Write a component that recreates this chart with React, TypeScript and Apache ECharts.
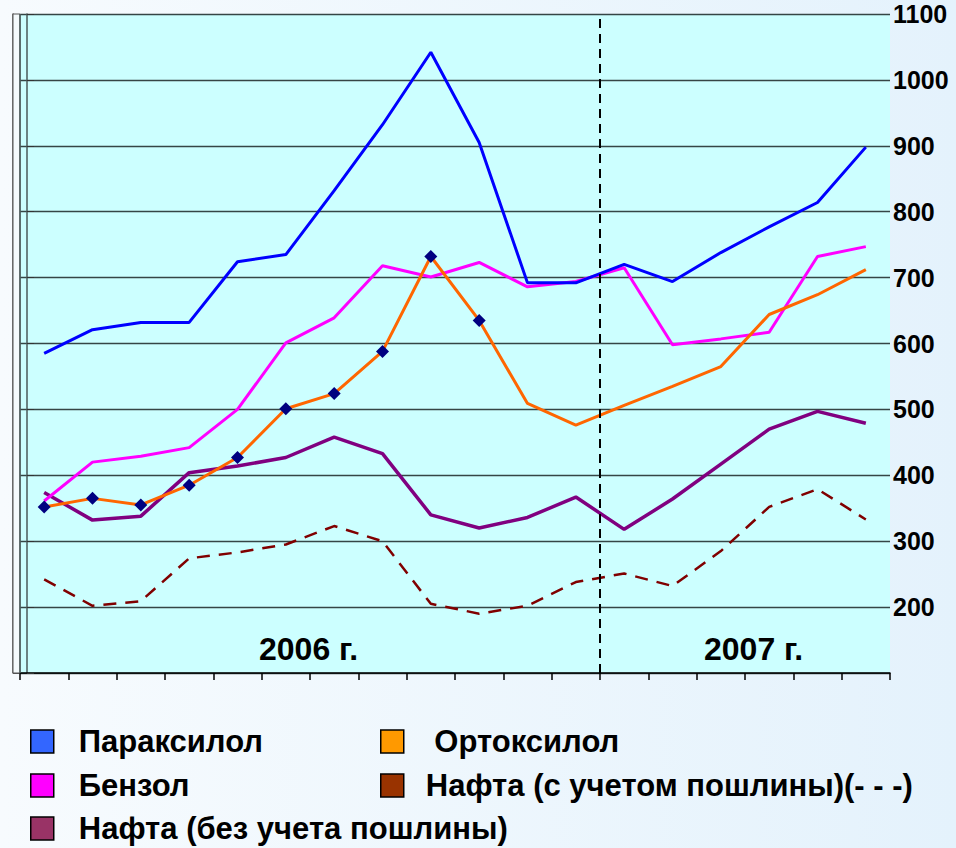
import React, { useEffect, useRef } from 'react';
import * as echarts from 'echarts';

// Months: January 2006 – June 2007
const categories = [
  'янв.06', 'фев.06', 'мар.06', 'апр.06', 'май.06', 'июн.06',
  'июл.06', 'авг.06', 'сен.06', 'окт.06', 'ноя.06', 'дек.06',
  'янв.07', 'фев.07', 'мар.07', 'апр.07', 'май.07', 'июн.07',
];

const paraxylene = [585, 621, 632, 632, 724, 735, 832, 932, 1042, 905, 692, 692, 720, 694, 738, 777, 814, 898];
const orthoxylene = [352, 365, 355, 385, 427, 501, 524, 588, 732, 635, 509, 476, 506, 535, 565, 644, 674, 712];
const benzene = [361, 420, 429, 442, 500, 601, 639, 718, 701, 723, 686, 694, 715, 598, 607, 617, 732, 747];
const naphthaNoDuty = [374, 332, 338, 404, 414, 427, 458, 433, 340, 320, 336, 367, 318, 364, 417, 470, 497, 479];
const naphthaDuty = [242, 202, 209, 274, 283, 295, 323, 300, 205, 190, 202, 238, 251, 232, 285, 352, 379, 333];

const orthoMarkerCount = 10;
const yearBoundary = 12; // first month of 2007
const yearLabels = ['2006 г.', '2007 г.'];

const names = {
  para: 'Параксилол',
  ortho: 'Ортоксилол',
  benz: 'Бензол',
  duty: 'Нафта (с учетом пошлины)',
  noduty: 'Нафта (без учета пошлины)',
};

export default function App() {
  const ref = useRef<HTMLDivElement>(null);

  useEffect(() => {
    if (!ref.current) return;
    const chart = echarts.init(ref.current, null, { renderer: 'svg' });
    const font = '"Liberation Sans", Arial, sans-serif';

    const legendItems = [
      { name: names.para, color: '#3366FF', col: 0, row: 0 },
      { name: names.ortho, color: '#FF9900', col: 1, row: 0 },
      { name: names.benz, color: '#FF00FF', col: 0, row: 1 },
      { name: names.duty, color: '#993300', col: 1, row: 1 },
      { name: names.noduty, color: '#993366', col: 0, row: 2 },
    ];
    const colLeft = [30, 380];
    const colPad = [20, 17];
    const rowTop = [726, 770, 813];

    const legends = legendItems.map((it) => ({
      orient: 'horizontal', left: colLeft[it.col], top: rowTop[it.row], padding: 0,
      itemWidth: 23, itemHeight: 23, icon: 'rect', selectedMode: false,
      itemStyle: { borderColor: '#000', borderWidth: 1.5 },
      textStyle: {
        fontSize: 31, fontWeight: 'bold', color: '#000', fontFamily: font,
        padding: [0, 0, 0, colPad[it.col]],
      },
      formatter: (n: string) => (n === names.ortho ? ' ' + n : n === names.duty ? n + '(- - -)' : n),
      data: [{ name: it.name, itemStyle: { color: it.color } }],
    }));

    const option: any = {
      animation: false,
      backgroundColor: 'transparent',
      textStyle: { fontFamily: font },
      grid: {
        left: 20, right: 66, top: 14, bottom: 175,
        show: true, backgroundColor: '#CCFFFF', borderWidth: 0,
      },
      xAxis: [
        {
          type: 'category', data: categories, boundaryGap: true,
          axisLine: { show: true, lineStyle: { color: '#000', width: 1.5 } },
          axisTick: { show: true, interval: 0, length: 7, lineStyle: { color: '#000', width: 1.5 } },
          axisLabel: { show: false, interval: 0 },
          splitLine: { show: false },
        },
        { type: 'value', min: 0, max: categories.length, show: false },
      ],
      yAxis: [
        {
          type: 'value', position: 'right', min: 100, max: 1100, interval: 100, offset: -7,
          axisLine: { show: true, lineStyle: { color: '#4a5a5a', width: 1.5 } },
          axisTick: { show: true, length: 7, lineStyle: { color: '#333', width: 1 } },
          axisLabel: {
            margin: 10, fontSize: 25, fontWeight: 'bold', color: '#000', fontFamily: font,
            formatter: (v: number) => (v === 100 ? '' : String(v)),
          },
          splitLine: { show: true, lineStyle: { color: '#354545', width: 1.3 } },
        },
        {
          type: 'value', position: 'left', min: 100, max: 1100, interval: 100, offset: 7,
          axisLine: { show: true, lineStyle: { color: '#555', width: 1.5 } },
          axisTick: { show: true, inside: true, length: 7, lineStyle: { color: '#555', width: 1 } },
          axisLabel: { show: false },
          splitLine: { show: false },
        },
      ],
      legend: legends,
      graphic: [
        { type: 'rect', shape: { x: 13, y: 14, width: 7, height: 659 }, style: { fill: '#F4FAFC', stroke: '#555', lineWidth: 1 }, z: 1 },
        { type: 'line', shape: { x1: 20, y1: 14, x2: 20, y2: 673 }, style: { stroke: '#4a5a5a', lineWidth: 1.5 }, z: 5 },
        { type: 'text', left: 259, top: 633, style: { text: yearLabels[0], fontSize: 32, fontWeight: 'bold', fill: '#000', fontFamily: font }, z: 10 },
        { type: 'text', left: 704, top: 633, style: { text: yearLabels[1], fontSize: 32, fontWeight: 'bold', fill: '#000', fontFamily: font }, z: 10 },
      ],
      series: [
        {
          name: 'boundary', type: 'line', xAxisIndex: 1, yAxisIndex: 0, data: [], silent: true,
          markLine: {
            silent: true, symbol: 'none', label: { show: false },
            lineStyle: { color: '#000', type: [9, 6], width: 2 },
            data: [{ xAxis: yearBoundary }],
          },
        },
        {
          name: names.duty, type: 'line', data: naphthaDuty, symbol: 'none',
          itemStyle: { color: '#993300' },
          lineStyle: { color: '#800000', width: 2.5, type: [13, 9] },
        },
        {
          name: names.noduty, type: 'line', data: naphthaNoDuty, symbol: 'none',
          itemStyle: { color: '#993366' },
          lineStyle: { color: '#800080', width: 3.5 },
        },
        {
          name: names.benz, type: 'line', data: benzene, symbol: 'none',
          itemStyle: { color: '#FF00FF' },
          lineStyle: { color: '#FF00FF', width: 3 },
        },
        {
          name: names.para, type: 'line', data: paraxylene, symbol: 'none',
          itemStyle: { color: '#3366FF' },
          lineStyle: { color: '#0000FF', width: 3 },
        },
        {
          name: names.ortho, type: 'line', symbol: 'diamond', symbolSize: 13, showSymbol: true,
          data: orthoxylene.map((v, i) => (i < orthoMarkerCount ? v : { value: v, symbol: 'none' })),
          itemStyle: { color: '#000080' },
          lineStyle: { color: '#FF6600', width: 3 },
        },
      ],
    };

    chart.setOption(option);
    return () => chart.dispose();
  }, []);

  return (
    <div
      style={{
        position: 'fixed', left: 0, top: 0, width: 956, height: 848,
        background: 'linear-gradient(to right, #F7FBFE, #E4F2FC)',
      }}
    >
      <div ref={ref} style={{ width: 956, height: 848 }} />
    </div>
  );
}
